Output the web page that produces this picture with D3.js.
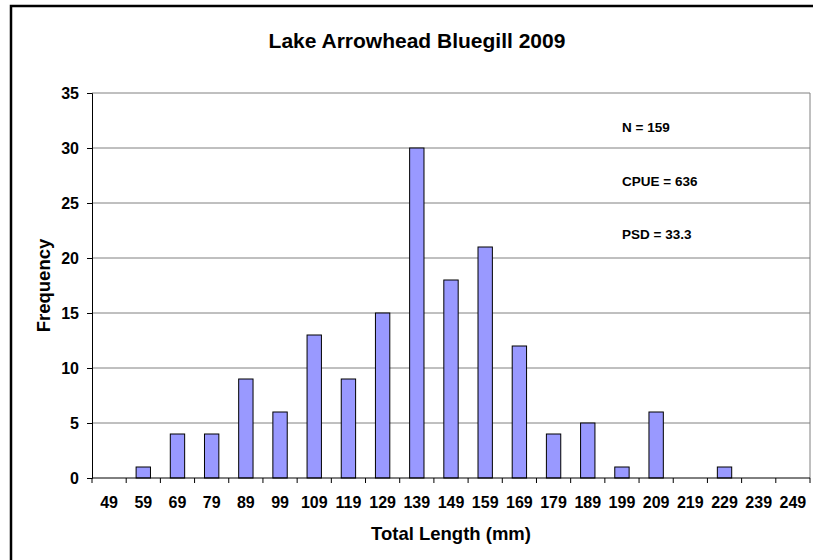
<!DOCTYPE html>
<html>
<head>
<meta charset="utf-8">
<script src="https://cdn.jsdelivr.net/npm/d3@7"></script>
<style>
  body { margin: 0; background: #fff; overflow: hidden; }
  text { font-family: "Liberation Sans", Arial, sans-serif; font-weight: bold; fill: #000; }
</style>
</head>
<body>
<script>
// data
var lengths = ["49", "59", "69", "79", "89", "99", "109", "119", "129", "139", "149",
               "159", "169", "179", "189", "199", "209", "219", "229", "239", "249"];
var counts = [0, 1, 4, 4, 9, 6, 13, 9, 15, 30, 18, 21, 12, 4, 5, 1, 6, 0, 1, 0, 0];
var yTicks = [0, 5, 10, 15, 20, 25, 30, 35];
var notes = ["N = 159", "CPUE = 636", "PSD = 33.3"];

var width = 813, height = 560;
var margin = {left: 92, right: 3, top: 93, bottom: 82};

var svg = d3.select("body").append("svg")
    .attr("width", width)
    .attr("height", height)
    .style("display", "block");

// outer chart frame (runs off the right and bottom edges)
svg.append("rect")
    .attr("x", 11).attr("y", 6)
    .attr("width", 900).attr("height", 600)
    .attr("fill", "none")
    .attr("stroke", "#000")
    .attr("stroke-width", 2.5);

var x = d3.scaleBand()
    .domain(lengths)
    .range([margin.left, width - margin.right])
    .paddingInner(0.58)
    .paddingOuter(0.29);

// band edges for the ticks (no padding)
var xEdge = d3.scaleBand()
    .domain(lengths)
    .range([margin.left, width - margin.right]);

var y = d3.scaleLinear()
    .domain([0, 35])
    .range([height - margin.bottom, margin.top]);

// grid lines
svg.append("g")
    .selectAll("line")
    .data(yTicks.filter(function(d) { return d > 0; }))
    .enter().append("line")
    .attr("x1", margin.left).attr("x2", width - margin.right)
    .attr("y1", function(d) { return y(d); })
    .attr("y2", function(d) { return y(d); })
    .attr("stroke", "#808080")
    .attr("stroke-width", 1);

// right border of plot area
svg.append("line")
    .attr("x1", width - margin.right).attr("x2", width - margin.right)
    .attr("y1", y(35)).attr("y2", y(0))
    .attr("stroke", "#808080");

// bars
svg.append("g")
    .selectAll("rect")
    .data(counts)
    .enter().append("rect")
    .attr("x", function(d, i) { return x(lengths[i]); })
    .attr("width", x.bandwidth())
    .attr("y", function(d) { return y(d); })
    .attr("height", function(d) { return y(0) - y(d); })
    .attr("fill", "#9999FF")
    .attr("stroke", "#000")
    .attr("stroke-width", 1)
    .style("display", function(d) { return d > 0 ? null : "none"; });

// y axis
var yAxis = svg.append("g")
    .attr("transform", "translate(" + margin.left + ",0)")
    .call(d3.axisLeft(y).tickValues(yTicks).tickSize(5).tickPadding(8));
yAxis.select(".domain").attr("stroke", "#000");
yAxis.selectAll("text").style("font-size", "16px");

// x axis, ticks between the categories
var xAxis = svg.append("g")
    .attr("transform", "translate(0," + y(0) + ")");
xAxis.append("line")
    .attr("x1", margin.left).attr("x2", width - margin.right)
    .attr("stroke", "#000");
xAxis.selectAll(".tk")
    .data(lengths.concat(["end"]))
    .enter().append("line")
    .attr("class", "tk")
    .attr("x1", function(d, i) { return margin.left + i * xEdge.step(); })
    .attr("x2", function(d, i) { return margin.left + i * xEdge.step(); })
    .attr("y1", 0).attr("y2", 5)
    .attr("stroke", "#000");
xAxis.selectAll(".lbl")
    .data(lengths)
    .enter().append("text")
    .attr("class", "lbl")
    .attr("x", function(d) { return xEdge(d) + xEdge.bandwidth() / 2; })
    .attr("y", 30)
    .attr("text-anchor", "middle")
    .style("font-size", "16px")
    .text(function(d) { return d; });

// titles
svg.append("text")
    .attr("x", 417).attr("y", 48)
    .attr("text-anchor", "middle")
    .style("font-size", "21px")
    .text("Lake Arrowhead Bluegill 2009");

svg.append("text")
    .attr("x", (margin.left + width - margin.right) / 2)
    .attr("y", 540)
    .attr("text-anchor", "middle")
    .style("font-size", "18.5px")
    .text("Total Length (mm)");

svg.append("text")
    .attr("transform", "translate(50," + ((y(0) + y(35)) / 2) + ") rotate(-90)")
    .attr("text-anchor", "middle")
    .style("font-size", "18.5px")
    .text("Frequency");

// annotations
svg.append("g")
    .selectAll("text")
    .data(notes)
    .enter().append("text")
    .attr("x", 622)
    .attr("y", function(d, i) { return 132 + i * 53.5; })
    .style("font-size", "13.5px")
    .text(function(d) { return d; });
</script>
</body>
</html>
